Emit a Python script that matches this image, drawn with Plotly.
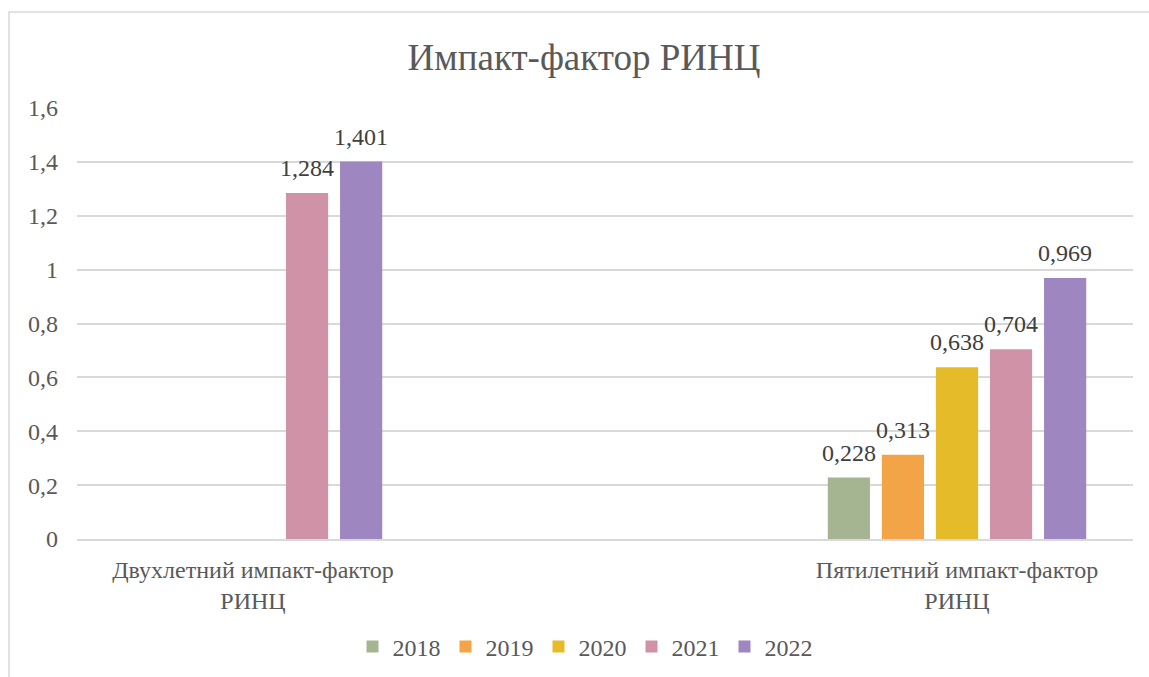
import plotly.graph_objects as go

categories = ["Двухлетний импакт-фактор<br>РИНЦ", "Пятилетний импакт-фактор<br>РИНЦ"]
years = ["2018", "2019", "2020", "2021", "2022"]
values = {
    "2018": [None, 0.228],
    "2019": [None, 0.313],
    "2020": [None, 0.638],
    "2021": [1.284, 0.704],
    "2022": [1.401, 0.969],
}
colors = {
    "2018": "#a5b592",
    "2019": "#f3a447",
    "2020": "#e5bb29",
    "2021": "#d092a7",
    "2022": "#9e86c1",
}
y_ticks = [0, 0.2, 0.4, 0.6, 0.8, 1.0, 1.2, 1.4, 1.6]

FONT = "Liberation Serif"

# plot area in pixels: x 77..1133, y 108..539
L, R, T, B = 77, 1149 - 1133, 108, 677 - 539
W, H = 1149 - L - R, 677 - T - B
X_RANGE = [-0.25, 1.25]
BARGAP = 0.616

def px(x):
    return (x - L) / W

def py(y):
    return (677 - B - y) / H

fig = go.Figure()
for yr in years:
    fig.add_trace(go.Bar(
        name=yr, x=categories, y=values[yr],
        marker=dict(color=colors[yr], line=dict(width=0)),
    ))

# data labels, placed above each bar of the group
band_px = W / (X_RANGE[1] - X_RANGE[0])
slot_px = band_px * (1 - BARGAP) / len(years)
for i, yr in enumerate(years):
    for cat, v in zip(categories, values[yr]):
        if v is None:
            continue
        fig.add_annotation(
            x=cat, y=v, xref="x", yref="y", showarrow=False,
            text=f"{v:.3f}".replace(".", ","), xanchor="center", yanchor="bottom",
            xshift=(i - (len(years) - 1) / 2) * slot_px, yshift=10,
            font=dict(family=FONT, size=24, color="#404040"),
        )

fig.update_layout(
    width=1149, height=677,
    margin=dict(l=L, r=R, t=T, b=B, autoexpand=False),
    paper_bgcolor="white", plot_bgcolor="white",
    separators=", ",
    barmode="group", bargap=BARGAP, bargroupgap=0.22,
    title=dict(text="Импакт-фактор РИНЦ", x=584 / 1149, xanchor="center",
               y=1 - 57 / 677, yanchor="middle",
               font=dict(family=FONT, size=37, color="#595959")),
    font=dict(family=FONT, size=24, color="#595959"),
    showlegend=True,
    legend=dict(orientation="h", x=px(585), xanchor="center", y=py(647), yanchor="middle",
                font=dict(family=FONT, size=24, color="#595959"),
                itemwidth=30, tracegroupgap=0, itemclick=False),
    xaxis=dict(type="category", range=X_RANGE, showgrid=False, showline=True,
               linecolor="#d9d9d9", linewidth=1.5, ticks="", ticklabelstandoff=8,
               automargin=False,
               tickfont=dict(family=FONT, size=24, color="#595959")),
    yaxis=dict(range=[0, 1.6], tickvals=y_ticks, showgrid=True, gridcolor="#d9d9d9",
               gridwidth=1.5, zeroline=False, showline=False, ticks="",
               ticklabelstandoff=18, automargin=False,
               tickfont=dict(family=FONT, size=24, color="#595959")),
    shapes=[dict(type="rect", xref="paper", yref="paper",
                 x0=px(9), x1=px(1160), y0=py(12), y1=py(700),
                 line=dict(color="#d9d9d9", width=1.5), layer="below")],
)

fig.write_html("out.html", post_script="document.body.style.margin='0';",
               config={"displayModeBar": False})
